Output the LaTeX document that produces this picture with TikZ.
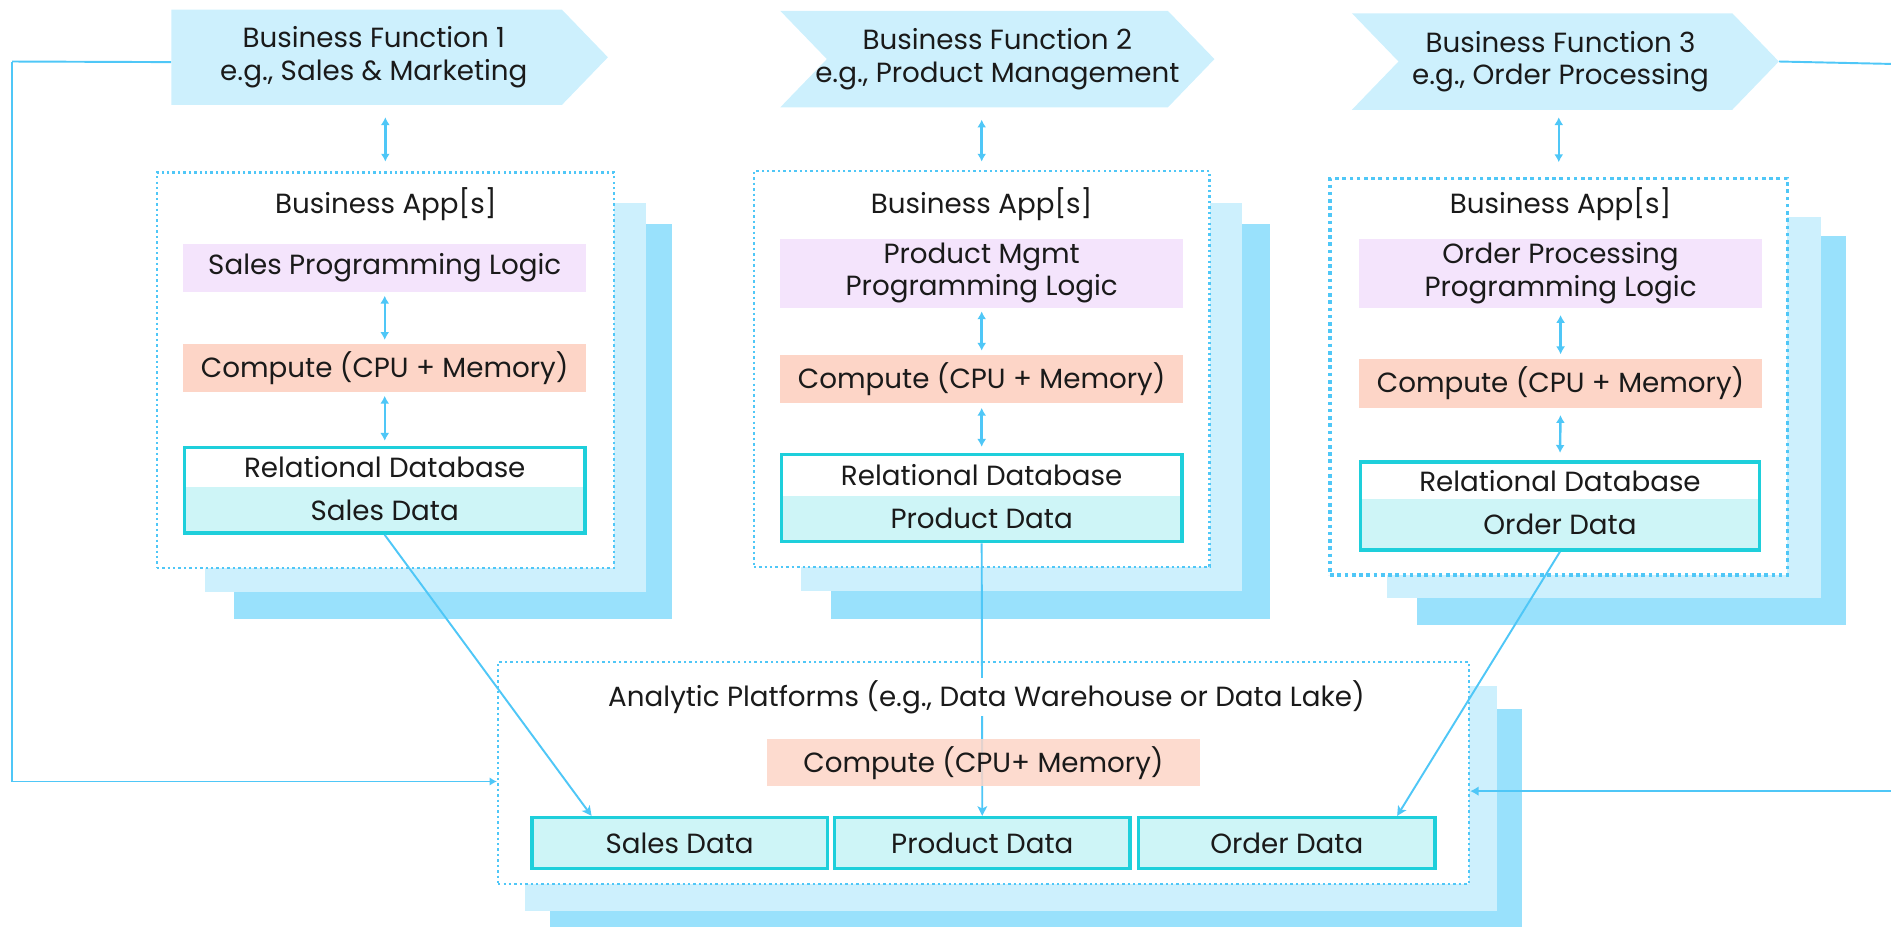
\documentclass[tikz,border=0pt]{standalone}
\usepackage{fontspec}
\setmainfont{Poppins}
\usetikzlibrary{fit,calc,arrows.meta,shapes.symbols}

\definecolor{wire}{HTML}{4FC7F7}
\definecolor{bannerfill}{HTML}{CDF0FD}
\definecolor{shlight}{HTML}{CDF0FD}
\definecolor{shdark}{HTML}{99E1FC}
\definecolor{lavender}{HTML}{F4E4FC}
\definecolor{peach}{HTML}{FDD5C7}
\definecolor{tealline}{HTML}{1ECFDB}
\definecolor{tealfill}{HTML}{CEF5F7}
\definecolor{ink}{HTML}{1A1A1A}

\tikzset{
  every node/.style={text=ink},
  banner/.style={shape=signal, fill=bannerfill, draw=none, signal pointer angle=92,
    inner sep=0pt, align=center},
  shadowA/.style={fill=shlight, draw=none, inner sep=0pt},
  shadowB/.style={fill=shdark, draw=none, inner sep=0pt},
  appbox/.style={draw=wire, fill=white, line width=2pt, dash pattern=on 2pt off 2.5pt, inner sep=0pt},
  appboxbold/.style={draw=wire, fill=white, line width=3pt, dash pattern=on 3pt off 3pt, inner sep=0pt},
  logicbox/.style={fill=lavender, draw=none, inner sep=0pt, align=center},
  computebox/.style={fill=peach, draw=none, inner sep=0pt, align=center},
  relpart/.style={fill=white, draw=none, inner sep=0pt},
  datapart/.style={fill=tealfill, draw=none, inner sep=0pt},
  dbframe/.style={draw=tealline, line width=3pt, inner sep=0pt},
  databox/.style={fill=tealfill, draw=tealline, line width=3pt, inner sep=0pt},
  wireline/.style={draw=wire, line width=1.6pt},
  dbl/.style={draw=wire, line width=2pt, {Latex[length=6.5pt,width=7.5pt]}-{Latex[length=6.5pt,width=7.5pt]}},
  feed/.style={draw=wire, line width=1.6pt, -{Stealth[length=8pt,width=8pt,inset=2pt]}},
}

\begin{document}
\begin{tikzpicture}[x=1pt, y=-1pt, font=\fontsize{23}{27}\selectfont]
\useasboundingbox (0,0) rectangle (1568,769);

% ---- business function banners ----
\node[banner, signal to=east, minimum width=362pt, minimum height=79pt,
  label={[xshift=6pt, align=center, name=bf1t]center:Business Function 1\\e.g., Sales \& Marketing}]
  (bf1) at (304,47.5) {};
\node[banner, signal to=east, signal from=west, minimum width=360pt, minimum height=80pt,
  label={[align=center, name=bf2t]center:Business Function 2\\e.g., Product Management}]
  (bf2) at (827,49) {};
\node[banner, signal to=east, signal from=west, minimum width=354pt, minimum height=80pt,
  label={[xshift=-4pt, align=center, name=bf3t]center:Business Function 3\\e.g., Order Processing}]
  (bf3) at (1298,51) {};

% ---- business app stacks ----
\node[shadowB, fit={(194,186) (557,513)}] (app1s2) {};
\node[shadowA, fit={(170,168) (536,491)}] (app1s1) {};
\node[appbox,  fit={(130,143) (509,471)}] (app1) {};
\node (app1t) at (320,169) {Business App[s]};

\node[shadowB, fit={(689,186) (1053,513)}] (app2s2) {};
\node[shadowA, fit={(664,168) (1030,490)}] (app2s1) {};
\node[appbox,  fit={(625,142) (1003,470)}] (app2) {};
\node (app2t) at (814,169) {Business App[s]};

\node[shadowB, fit={(1175,196) (1531,518)}] (app3s2) {};
\node[shadowA, fit={(1150,180) (1510,496)}] (app3s1) {};
\node[appboxbold, fit={(1103,148) (1482,477)}] (app3) {};
\node (app3t) at (1294,169) {Business App[s]};

% programming logic
\node[logicbox, fit={(152,202) (486,242)}] (l1) {};
\node at (l1.center) {Sales Programming Logic};
\node[logicbox, fit={(647,198) (981,255)}] (l2) {};
\node[align=center] at (l2.center) {Product Mgmt\\Programming Logic};
\node[logicbox, fit={(1127,198) (1461,255)}] (l3) {};
\node[align=center] at (l3.center) {Order Processing\\Programming Logic};

% compute
\node[computebox, fit={(152,285) (486,325)}] (c1) {};
\node at (c1.center) {Compute (CPU + Memory)};
\node[computebox, fit={(647,294) (981,334)}] (c2) {};
\node at (c2.center) {Compute (CPU + Memory)};
\node[computebox, fit={(1127,298) (1461,338)}] (c3) {};
\node at (c3.center) {Compute (CPU + Memory)};

% relational databases
\node[relpart,  fit={(153,371) (485,404)}] (d1r) {};
\node[datapart, fit={(153,404) (485,442)}] (d1d) {};
\node at (d1r.center) {Relational Database};
\node at (d1d.center) {Sales Data};
\node[dbframe,  fit={(153,371) (485,442)}] (d1) {};

\node[relpart,  fit={(648,377) (980,411)}] (d2r) {};
\node[datapart, fit={(648,411) (980,449)}] (d2d) {};
\node at (d2r.center) {Relational Database};
\node at (d2d.center) {Product Data};
\node[dbframe,  fit={(648,377) (980,449)}] (d2) {};

\node[relpart,  fit={(1128,383) (1459,414)}] (d3r) {};
\node[datapart, fit={(1128,414) (1459,456)}] (d3d) {};
\node at (d3r.center) {Relational Database};
\node at (d3d.center) {Order Data};
\node[dbframe,  fit={(1128,383) (1459,456)}] (d3) {};

% ---- analytic platform stack ----
\node[shadowB, fit={(456,588) (1262,769)}] (aps2) {};
\node[shadowA, fit={(435,569) (1241,755)}] (aps1) {};
\node[appbox,  fit={(413,549) (1218,733)}] (ap) {};

\node[databox, fit={(441,678) (686,720)}] (as) {};
\node at (as.center) {Sales Data};
\node[databox, fit={(692,678) (937,720)}] (apd) {};
\node at (apd.center) {Product Data};
\node[databox, fit={(944,678) (1190,720)}] (ao) {};
\node at (ao.center) {Order Data};

% product feed runs behind the heading and the compute block
\draw[feed] (d2.south) -- (apd.north);
\node[fill=white, inner sep=2pt] (apt) at (818,578) {Analytic Platforms (e.g., Data Warehouse or Data Lake)};
\node[computebox, fill opacity=0.85, text opacity=1, fit={(636,613) (995,652)}] (ac) {};
\node at (ac.center) {Compute (CPU+ Memory)};

% other feeds into the analytic platform
\draw[feed] (d1.south) -- ($(as.north west)+(51,0)$);
\draw[feed] (d3.south) -- ($(ao.north east)+(-33,0)$);

% ---- vertical links inside each stack ----
\draw[dbl, shorten <=10pt, shorten >=8pt] (app1.north |- bf1.south) -- (app1.north);
\draw[dbl, shorten <=10pt, shorten >=7pt] (app2.north |- bf2.south) -- (app2.north);
\draw[dbl, shorten <=6pt, shorten >=12pt] (app3.north |- bf3.south) -- (app3.north);

\draw[dbl, shorten <=3pt, shorten >=3pt] (l1.south) -- (c1.north);
\draw[dbl, shorten <=3pt, shorten >=4pt] (c1.south) -- (d1.north);
\draw[dbl, shorten <=3pt, shorten >=3pt] (l2.south) -- (c2.north);
\draw[dbl, shorten <=4pt, shorten >=5pt] (c2.south) -- (d2.north);
\draw[dbl, shorten <=6pt, shorten >=4pt] (l3.south) -- (c3.north);
\draw[dbl, shorten <=6pt, shorten >=6pt] (c3.south) -- (d3.north);

% ---- outer loops to the analytic platform ----
\coordinate (lrail) at (10,51);
\coordinate (redgetop) at (1568,53);
\coordinate (redgebot) at (1568,656);
\draw[wireline] ([yshift=-4pt]bf1.west) -- (lrail);
\draw[wireline, -{Latex[length=6pt,width=7pt]}] (lrail) |- ([yshift=-7pt]ap.west);
\draw[wireline] (bf3.east) -- (redgetop);
\draw[wireline, -{Latex[length=7pt,width=8pt]}] (redgebot) -- (ap.east |- redgebot);
\end{tikzpicture}
\end{document}
